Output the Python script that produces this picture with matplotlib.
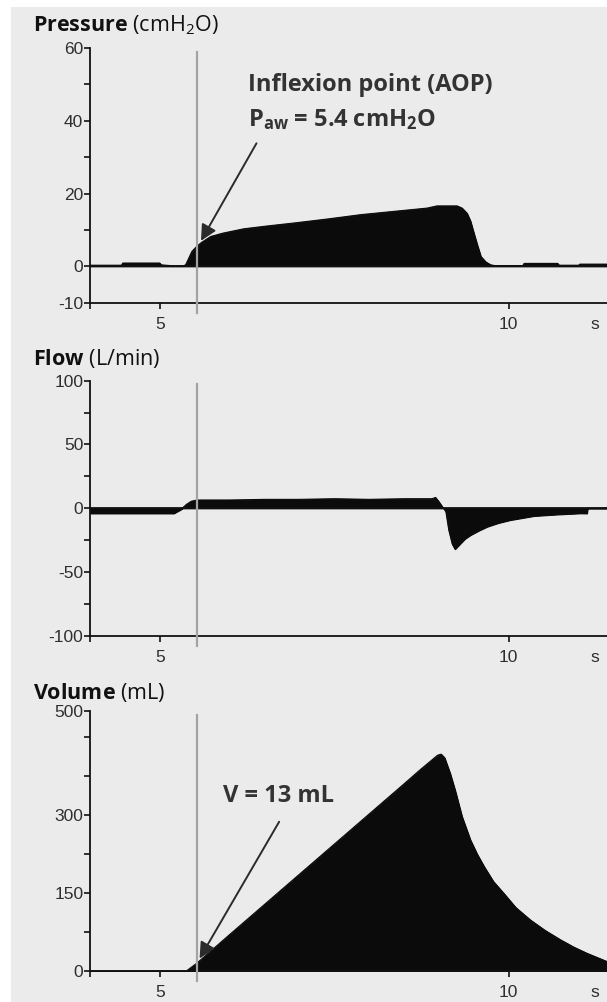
import matplotlib
matplotlib.use("Agg")
import matplotlib.pyplot as plt
from matplotlib.patches import Rectangle

# ---- data ----
time_p = [4.0, 4.45, 4.47, 5.0, 5.02, 5.22, 5.33, 5.37, 5.46, 5.53, 5.6, 5.73, 5.9,
          6.2, 6.5, 6.92, 7.4, 7.88, 8.3, 8.83, 8.97, 9.26, 9.33, 9.40, 9.45, 9.5,
          9.55, 9.6, 9.67, 9.74, 9.8, 10.2, 10.22, 10.7, 10.72, 11.0, 11.02, 11.41]
pressure = [0.3, 0.3, 0.9, 0.9, 0.4, 0.1, 0.1, 0.4, 4.1, 5.5, 6.6, 8.2, 9.1,
            10.3, 11.0, 11.9, 13.0, 14.2, 15.0, 16.0, 16.6, 16.6, 16.0, 14.6, 12.5, 9.1,
            5.8, 2.7, 1.2, 0.4, 0.2, 0.2, 0.8, 0.8, 0.3, 0.3, 0.6, 0.6]

time_f = [4.0, 5.2, 5.25, 5.3, 5.38, 5.45, 5.53, 6.0, 6.5, 7.0, 7.5, 8.0, 8.5, 8.9, 8.95,
          9.0, 9.05, 9.08, 9.1, 9.14, 9.19, 9.23, 9.3, 9.37, 9.45, 9.57, 9.69, 9.85, 10.02,
          10.36, 10.7, 11.03, 11.12, 11.13, 11.41]
flow = [-4, -4, -2.5, -1, 3, 5.5, 6.5, 6.5, 7, 7, 7.5, 7, 7.5, 7.5, 8.5,
        5, 1, -1, -3, -17, -28, -32, -28, -24, -21, -17.5, -14.4, -11.5, -9.2,
        -6, -4.8, -3.9, -4, 0, 0]

time_v = [4.0, 5.38, 5.53, 6.0, 6.5, 7.0, 7.5, 8.0, 8.5, 8.73, 8.9, 8.98, 9.03, 9.08,
          9.12, 9.16, 9.23, 9.33, 9.45, 9.55, 9.65, 9.78, 9.93, 10.1, 10.31, 10.52,
          10.74, 10.93, 11.12, 11.41]
volume = [0, 0, 15, 70, 128, 186, 244, 302, 360, 387, 406, 415, 417, 410,
          395, 380, 348, 297, 252, 224, 200, 172, 149, 122, 98, 78, 60, 46, 34, 18]

aop_time = 5.53

panel_titles = [r"$\mathbf{Pressure}$ (cmH$_2$O)", "$\\mathbf{Flow}$ (L/min)", "$\\mathbf{Volume}$ (mL)"]
y_major = [[-10, 0, 20, 40, 60], [-100, -50, 0, 50, 100], [0, 150, 300, 500]]
y_minor = [[10, 30, 50], [-75, -25, 25, 75], [75, 225, 375, 450]]
y_limits = [(-10, 60), (-100, 100), (0, 500)]

plt.rcParams["font.family"] = ["Liberation Sans", "DejaVu Sans"]
plt.rcParams["axes.unicode_minus"] = False
plt.rcParams["mathtext.fontset"] = "custom"
plt.rcParams["mathtext.rm"] = "Open Sans"
plt.rcParams["mathtext.bf"] = "Open Sans:bold"
plt.rcParams["mathtext.it"] = "Open Sans:italic"

W, H = 607, 1002
fig = plt.figure(figsize=(W / 100, H / 100), dpi=100)
fig.patch.set_facecolor("white")
fig.patches.append(Rectangle((11 / W, 0), 1, 1 - 7 / H, transform=fig.transFigure,
                             facecolor="#ebebeb", edgecolor="none", zorder=-10))

# axes boxes in pixels: (top, bottom)
boxes = [(48, 302.7), (380.6, 636), (711, 971)]
title_y = [25, 359, 692]
series = [(time_p, pressure), (time_f, flow), (time_v, volume)]

axes = []
for i in range(3):
    top, bot = boxes[i]
    ax = fig.add_axes([90 / W, 1 - bot / H, (W - 90) / W, (bot - top) / H])
    ax.set_facecolor("none")
    t, y = series[i]
    ax.fill_between(t, 0, y, color="#0b0b0b", lw=0.8, zorder=2)
    ax.plot(t, y, color="#0b0b0b", lw=0.8, zorder=2)
    if i < 2:
        ax.axhline(0, color="#111111", lw=1.3, zorder=3)
    ax.axvline(aop_time, ymin=-0.04, ymax=0.985, color="#a3a3a3", lw=1.6,
               clip_on=False, zorder=4)

    ax.set_xlim(4.0, 11.407)
    ax.set_ylim(*y_limits[i])
    for s in ["top", "right"]:
        ax.spines[s].set_visible(False)
    for s in ["left", "bottom"]:
        ax.spines[s].set_linewidth(1.3)
        ax.spines[s].set_color("#111111")
    ax.set_yticks(y_major[i])
    ax.set_yticks(y_minor[i], minor=True)
    ax.set_xticks([4, 5, 10])
    ax.set_xticklabels(["", "5", "10"])
    ax.tick_params(axis="y", which="both", direction="out", length=4.3, width=1.2,
                   pad=0.5, labelsize=12.5, labelcolor="#2e2e2e", color="#111111")
    ax.tick_params(axis="x", direction="out", length=4.3, width=1.2, pad=6,
                   labelsize=12.5, labelcolor="#2e2e2e", color="#111111")
    ax.annotate("s", xy=(11.24, 0), xycoords=("data", "axes fraction"),
                xytext=(0, -10.4), textcoords="offset points", ha="center", va="top",
                fontsize=12.5, color="#2e2e2e")

    fig.text(33 / W, 1 - title_y[i] / H, panel_titles[i], fontsize=15.5,
             family="Open Sans", color="#111111", ha="left", va="center")
    axes.append(ax)

# annotations
ax_p, ax_f, ax_v = axes
ax_p.text(6.27, 49.9, "Inflexion point (AOP)", fontsize=17, fontweight="bold",
          family="Open Sans", color="#333333", ha="left", va="center")
ax_p.text(6.27, 40.3, r"P$_\mathbf{aw}$ = 5.4 cmH$_\mathbf{2}$O", fontsize=17,
          fontweight="bold", family="Open Sans", color="#333333", ha="left", va="center")
ax_p.annotate("", xy=(5.59, 7.0), xytext=(6.385, 33.8),
              arrowprops=dict(arrowstyle="-|>", color="#2b2b2b", lw=1.4,
                              mutation_scale=24, shrinkA=0, shrinkB=0), zorder=5)

ax_v.text(5.91, 336, "V = 13 mL", fontsize=17, fontweight="bold",
          family="Open Sans", color="#333333", ha="left", va="center")
ax_v.annotate("", xy=(5.57, 24), xytext=(6.71, 287),
              arrowprops=dict(arrowstyle="-|>", color="#2b2b2b", lw=1.4,
                              mutation_scale=24, shrinkA=0, shrinkB=0), zorder=5)

fig.savefig("out.png", dpi=100, facecolor=fig.get_facecolor())
